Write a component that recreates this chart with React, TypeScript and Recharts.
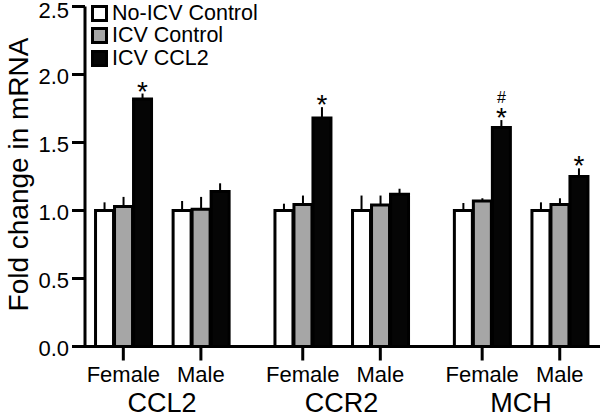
import { ComposedChart, Bar, XAxis, YAxis, ErrorBar, Legend, LabelList, Label } from 'recharts';

const FONT = '"Liberation Sans", Arial, Helvetica, sans-serif';

// categories
const genes = ['CCL2', 'CCR2', 'MCH'];
const sexes = ['Female', 'Male'];
const seriesNames = ['No-ICV Control', 'ICV Control', 'ICV CCL2'];

// series values, order: CCL2 F, CCL2 M, CCR2 F, CCR2 M, MCH F, MCH M
const noIcvControl = [1.0, 1.0, 1.0, 1.0, 1.0, 1.0];
const noIcvControlErr = [0.06, 0.07, 0.05, 0.11, 0.055, 0.06];
const icvControl = [1.03, 1.01, 1.045, 1.04, 1.07, 1.045];
const icvControlErr = [0.07, 0.09, 0.065, 0.07, 0.02, 0.045];
const icvCcl2 = [1.82, 1.14, 1.68, 1.12, 1.61, 1.25];
const icvCcl2Err = [0.04, 0.06, 0.08, 0.04, 0.055, 0.06];

// significance marks over the ICV CCL2 bars
const starMarks = ['*', '', '*', '', '*', '*'];
const hashMarks = ['', '', '', '', '#', ''];

const yTicks = [0, 0.5, 1.0, 1.5, 2.0, 2.5];

// gene groups sit a bit further apart than Female/Male within a gene
const GENE_STEP = 2.313;
const X_DOMAIN = [-0.494, 6.145];

const data = noIcvControl.map((v, i) => {
  const g = Math.floor(i / 2);
  const s = i % 2;
  return {
    pos: g * GENE_STEP + s,
    sex: sexes[s],
    noIcv: v,
    noIcvErr: [0, noIcvControlErr[i]],
    icvCtl: icvControl[i],
    icvCtlErr: [0, icvControlErr[i]],
    icvCcl2: icvCcl2[i],
    icvCcl2Err: [0, icvCcl2Err[i]],
  };
});

const sexTicks = data.map((d) => d.pos);
const geneTicks = genes.map((_, g) => g * GENE_STEP + 0.5);

const renderLegend = (props: any) => {
  const items = [...(props.payload || [])].sort(
    (a: any, b: any) => seriesNames.indexOf(a.value) - seriesNames.indexOf(b.value)
  );
  return (
    <div style={{ fontFamily: FONT, fontSize: 21.5, color: '#000' }}>
      {items.map((entry: any) => (
        <div key={entry.value} style={{ display: 'flex', alignItems: 'center', height: 22.5, whiteSpace: 'nowrap' }}>
          <span
            style={{
              display: 'inline-block',
              width: 11,
              height: 11,
              border: '3px solid #000',
              background: entry.color,
              marginRight: 4,
            }}
          />
          <span>{entry.value}</span>
        </div>
      ))}
    </div>
  );
};

const renderMarks = (props: any) => {
  const vb = props.viewBox || props;
  const { x, y, width, height } = vb;
  const i = props.index;
  if (i == null || !starMarks[i]) return null;
  const errTop = y - (icvCcl2Err[i] * height) / icvCcl2[i];
  const cx = x + width / 2;
  return (
    <g>
      <text x={cx} y={errTop + 7} textAnchor="middle" fontSize={28} fontFamily={FONT} fill="#000">
        {starMarks[i]}
      </text>
      {hashMarks[i] && (
        <text x={cx} y={errTop - 17} textAnchor="middle" fontSize={16} fontFamily={FONT} fill="#000">
          {hashMarks[i]}
        </text>
      )}
    </g>
  );
};

const renderYLabel = (props: any) => {
  const vb = props.viewBox;
  const cy = vb.y + vb.height / 2 - 2;
  return (
    <text
      x={28}
      y={cy}
      transform={`rotate(-90, 28, ${cy})`}
      textAnchor="middle"
      fontSize={28}
      fontFamily={FONT}
      fill="#000"
    >
      Fold change in mRNA
    </text>
  );
};

const YTick = (props: any) => {
  const { x, y, payload } = props;
  const shift = payload.value === 2.5 ? 3.5 : 1.5;
  return (
    <text x={x} y={y + shift} dy="0.355em" textAnchor="end" fontSize={22} fontFamily={FONT} fill="#000">
      {Number(payload.value).toFixed(1)}
    </text>
  );
};

const axisStroke = { stroke: '#000', strokeWidth: 3 };

export default function App() {
  return (
    <div style={{ position: 'absolute', left: 0, top: 0, width: 600, height: 416, background: '#fff' }}>
      <ComposedChart
        width={600}
        height={416}
        data={data}
        margin={{ top: 6.5, right: 0, bottom: 0, left: 0 }}
        barSize={18}
        barGap={1}
      >
        <XAxis
          dataKey="pos"
          type="number"
          scale="linear"
          domain={X_DOMAIN}
          allowDataOverflow
          ticks={sexTicks}
          interval={0}
          tickFormatter={(v: number) => {
            const d = data.find((r) => Math.abs(r.pos - v) < 1e-6);
            return d ? d.sex : '';
          }}
          height={36}
          tickSize={14}
          tickMargin={5.5}
          axisLine={axisStroke}
          tickLine={axisStroke}
          tick={{ fontSize: 22, fill: '#000', fontFamily: FONT }}
        />
        <XAxis
          xAxisId="gene"
          dataKey="pos"
          type="number"
          scale="linear"
          domain={X_DOMAIN}
          allowDataOverflow
          ticks={geneTicks}
          interval={0}
          tickFormatter={(v: number) => genes[Math.round((v - 0.5) / GENE_STEP)] ?? ''}
          height={33.5}
          tickSize={0}
          tickMargin={10}
          axisLine={false}
          tickLine={false}
          tick={{ fontSize: 27, fill: '#000', fontFamily: FONT }}
        />
        <YAxis
          width={85}
          domain={[0, 2.5]}
          ticks={yTicks}
          interval={0}
          tickSize={13}
          tickMargin={3}
          axisLine={axisStroke}
          tickLine={axisStroke}
          tick={<YTick />}
        >
          <Label content={renderYLabel} />
        </YAxis>
        <Legend
          layout="horizontal"
          verticalAlign="middle"
          align="center"
          content={renderLegend}
          wrapperStyle={{ top: 2, left: 91, width: 'auto' }}
        />
        <Bar dataKey="noIcv" name="No-ICV Control" fill="#ffffff" stroke="#000" strokeWidth={3} isAnimationActive={false}>
          <ErrorBar dataKey="noIcvErr" width={0} stroke="#000" strokeWidth={2} isAnimationActive={false} />
        </Bar>
        <Bar dataKey="icvCtl" name="ICV Control" fill="#a6a6a6" stroke="#000" strokeWidth={3} isAnimationActive={false}>
          <ErrorBar dataKey="icvCtlErr" width={0} stroke="#000" strokeWidth={2} isAnimationActive={false} />
        </Bar>
        <Bar dataKey="icvCcl2" name="ICV CCL2" fill="#050505" stroke="#000" strokeWidth={3} isAnimationActive={false}>
          <ErrorBar dataKey="icvCcl2Err" width={0} stroke="#000" strokeWidth={2} isAnimationActive={false} />
          <LabelList dataKey="icvCcl2" content={renderMarks} />
        </Bar>
      </ComposedChart>
    </div>
  );
}
